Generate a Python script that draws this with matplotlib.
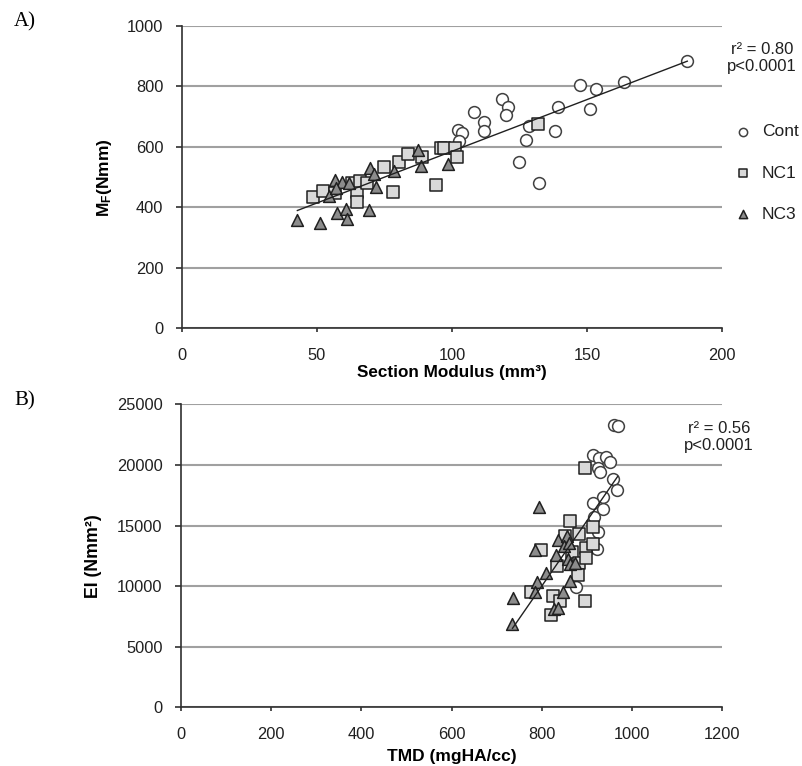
import numpy as np
import matplotlib.pyplot as plt

# ---- data: panel A (section modulus vs M_F) ----
cont_sm = [187.1, 163.6, 153.4, 147.3, 151.0, 139.2, 138.0, 118.6, 120.7, 120.1,
           108.1, 111.9, 111.9, 102.3, 103.9, 102.6, 128.5, 127.4, 125.0, 132.2]
cont_mf = [885, 816, 790, 804, 726, 731, 653, 757, 733, 705,
           714, 682, 653, 656, 645, 620, 669, 622, 551, 479]

nc1_sm = [48.6, 52.3, 56.6, 62.9, 64.8, 64.8, 65.9, 68.6, 74.9, 78.2,
          80.3, 83.7, 88.8, 94.2, 96.0, 97.2, 101.1, 101.8, 131.7]
nc1_mf = [435, 453, 446, 479, 452, 419, 486, 481, 534, 452,
          551, 578, 565, 475, 597, 597, 597, 565, 675]

nc3_sm = [42.8, 51.2, 56.6, 57.4, 59.4, 60.7, 61.3, 61.9, 54.5, 57.0,
          69.6, 71.1, 72.0, 69.2, 78.4, 87.6, 88.5, 98.4]
nc3_mf = [358, 347, 490, 382, 485, 393, 361, 479, 438, 463,
          529, 510, 466, 391, 521, 589, 536, 545]

# ---- data: panel B (TMD vs EI) ----
cont_tmd = [961, 968, 913, 927, 942, 952, 924, 930, 958, 966,
            935, 913, 935, 916, 925, 922, 876]
cont_ei = [23300, 23170, 20830, 20560, 20690, 20230, 19730, 19450, 18830, 17940,
           17390, 16900, 16350, 15690, 14500, 13050, 9970]

nc1_tmd = [896, 862, 913, 852, 883, 799, 898, 914, 867, 833,
           883, 881, 776, 825, 841, 820, 896, 898]
nc1_ei = [19780, 15390, 14920, 14170, 14310, 12990, 13160, 13490, 12850, 11670,
          11950, 10930, 9550, 9220, 8810, 7630, 8790, 12310]

nc3_tmd = [793, 785, 831, 836, 855, 850, 861, 857, 863, 873,
           809, 790, 785, 862, 846, 736, 735, 826, 837]
nc3_ei = [16570, 12990, 12580, 13820, 14170, 13320, 13550, 12250, 11840, 11900,
          11070, 10380, 9550, 10460, 9550, 9060, 6860, 8100, 8180]

plt.rcParams['font.family'] = ['Liberation Sans', 'DejaVu Sans']
plt.rcParams['mathtext.fontset'] = 'custom'
plt.rcParams['mathtext.rm'] = 'Liberation Sans'
plt.rcParams['mathtext.bf'] = 'Liberation Sans:bold'

fig = plt.figure(figsize=(8.03, 7.66), dpi=100)
axA = fig.add_axes([0.2263, 0.5714, 0.673, 0.3947])
axB = fig.add_axes([0.2254, 0.0764, 0.674, 0.3958])

styles = {
    'Cont': dict(marker='o', facecolor='white', edgecolor='#404040'),
    'NC1': dict(marker='s', facecolor='#d9d9d9', edgecolor='#202020'),
    'NC3': dict(marker='^', facecolor='#8c8c8c', edgecolor='#202020'),
}


def draw(ax, groups, xlim, xticks, ylim, yticks):
    for name, (x, y) in groups.items():
        ax.scatter(x, y, s=72, linewidths=1.1, label=name, zorder=3, **styles[name])
    # linear fit over all groups
    allx = np.concatenate([np.asarray(g[0], float) for g in groups.values()])
    ally = np.concatenate([np.asarray(g[1], float) for g in groups.values()])
    k, b = np.polyfit(allx, ally, 1)
    xs = np.array([allx.min(), allx.max()])
    ax.plot(xs, k * xs + b, color='#202020', lw=1.0, zorder=4)
    ax.set_xlim(xlim)
    ax.set_ylim(ylim)
    ax.set_xticks(xticks)
    ax.set_yticks(yticks)
    ax.yaxis.grid(True, color='#a0a0a0', lw=1.5)
    ax.set_axisbelow(True)
    for s in ['top', 'right']:
        ax.spines[s].set_visible(False)
    for s in ['left', 'bottom']:
        ax.spines[s].set_color('#303030')
        ax.spines[s].set_linewidth(1.2)
    ax.tick_params(direction='out', width=1.2, color='#303030',
                   labelsize=11.8, labelcolor='#202020')
    ax.tick_params(axis='x', length=3, pad=11)
    ax.tick_params(axis='y', length=4.3, pad=9)


draw(axA, {'Cont': (cont_sm, cont_mf), 'NC1': (nc1_sm, nc1_mf), 'NC3': (nc3_sm, nc3_mf)},
     (0, 200), [0, 50, 100, 150, 200], (0, 1000), range(0, 1001, 200))
draw(axB, {'Cont': (cont_tmd, cont_ei), 'NC1': (nc1_tmd, nc1_ei), 'NC3': (nc3_tmd, nc3_ei)},
     (0, 1200), range(0, 1201, 200), (0, 25000), range(0, 25001, 5000))

axA.set_xlabel('Section Modulus (mm³)', fontsize=12.3, fontweight='bold')
axA.xaxis.set_label_coords(0.5, -0.121)
axA.set_ylabel(r'$\mathbf{M_F}$(Nmm)', fontsize=12.5, fontweight='bold')
axA.yaxis.set_label_coords(-0.1253, 0.5)
axB.set_xlabel('TMD (mgHA/cc)', fontsize=12.5, fontweight='bold')
axB.xaxis.set_label_coords(0.5, -0.137)
axB.set_ylabel('EI (Nmm²)', fontsize=12.8, fontweight='bold')
axB.yaxis.set_label_coords(-0.146, 0.5)

fig.text(762 / 803, 1 - 58 / 766, 'r² = 0.80\np<0.0001', ha='center', va='center',
         fontsize=12, color='#202020', linespacing=1.2)
fig.text(719 / 803, 1 - 437 / 766, 'r² = 0.56\np<0.0001', ha='center', va='center',
         fontsize=12, color='#202020', linespacing=1.2)

axA.legend(loc='upper left', bbox_to_anchor=(0.9939, 0.7264), frameon=False, fontsize=12.5,
           markerscale=0.7, handletextpad=0.58, labelspacing=1.5, handlelength=1.0,
           labelcolor='#202020')

fig.text(14 / 803, 1 - 22 / 766, 'A)', fontsize=15, family='Liberation Serif', va='center')
fig.text(14 / 803, 1 - 401 / 766, 'B)', fontsize=15, family='Liberation Serif', va='center')

fig.savefig('out.png', dpi=100)
